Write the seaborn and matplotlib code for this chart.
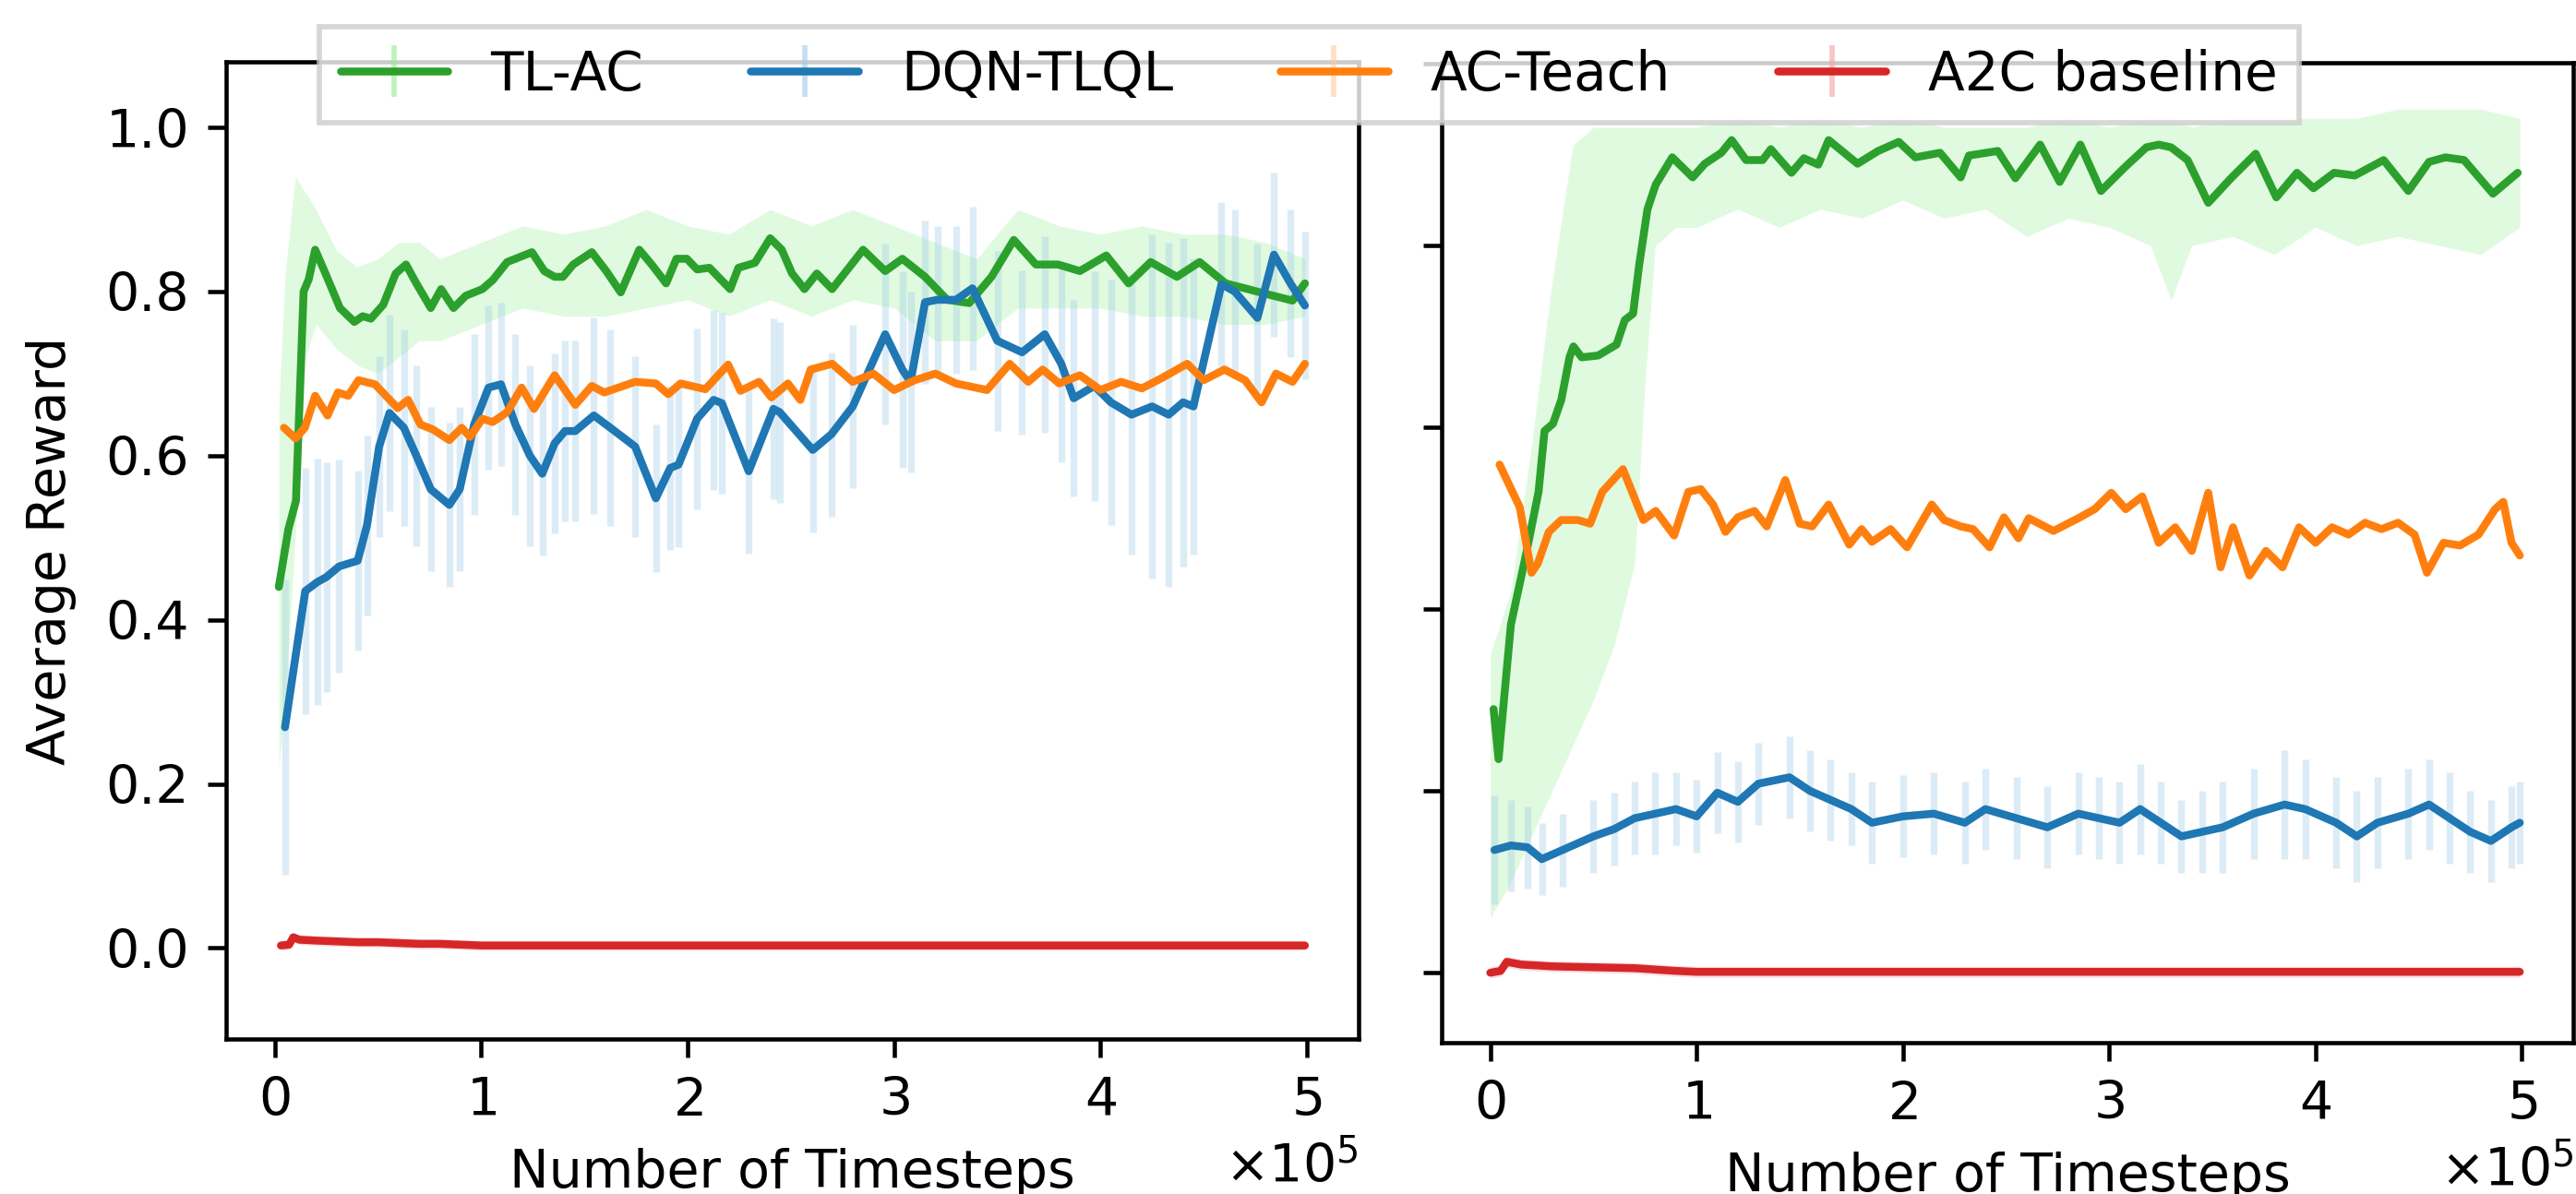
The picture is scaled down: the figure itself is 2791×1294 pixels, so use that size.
import numpy as np
import matplotlib
matplotlib.use("Agg")
import matplotlib.pyplot as plt
from matplotlib.lines import Line2D
from matplotlib.ticker import ScalarFormatter
import seaborn as sns

# === Values (timesteps in units of 1e5)
# Left panel
tlac_l_t = [0.02, 0.066, 0.103, 0.14, 0.165, 0.196, 0.246, 0.316, 0.386, 0.426, 0.466, 0.526, 0.586, 0.636,
            0.686, 0.756, 0.806, 0.866, 0.926, 1.006, 1.056, 1.126, 1.166, 1.246, 1.306, 1.356, 1.396, 1.446,
            1.536, 1.606, 1.676, 1.766, 1.826, 1.896, 1.946, 1.996, 2.046, 2.106, 2.206, 2.246, 2.326, 2.40,
            2.456, 2.506, 2.566, 2.626, 2.70, 2.85, 2.957, 3.04, 3.15, 3.257, 3.364, 3.472, 3.58, 3.687,
            3.795, 3.90, 4.028, 4.136, 4.243, 4.37, 4.48, 4.606, 4.714, 4.82, 4.93, 4.99]
tlac_l_r = [0.44, 0.51, 0.545, 0.80, 0.815, 0.851, 0.822, 0.780, 0.763, 0.770, 0.767, 0.784, 0.822, 0.833,
            0.810, 0.780, 0.803, 0.780, 0.795, 0.803, 0.814, 0.836, 0.840, 0.848, 0.825, 0.818, 0.818, 0.833,
            0.848, 0.825, 0.799, 0.851, 0.833, 0.810, 0.840, 0.840, 0.827, 0.829, 0.803, 0.829, 0.835, 0.865,
            0.851, 0.822, 0.803, 0.822, 0.803, 0.851, 0.825, 0.840, 0.818, 0.790, 0.786, 0.818, 0.863, 0.833,
            0.833, 0.825, 0.844, 0.810, 0.836, 0.818, 0.836, 0.810, 0.803, 0.796, 0.789, 0.810]
band_l_t = [0.02, 0.05, 0.1, 0.15, 0.2, 0.3, 0.4, 0.5, 0.6, 0.7, 0.8, 0.9, 1.0, 1.2, 1.4, 1.6, 1.8, 2.0,
            2.2, 2.4, 2.6, 2.8, 3.0, 3.2, 3.4, 3.6, 3.8, 4.0, 4.2, 4.4, 4.6, 4.8, 4.99]
band_l_lo = [0.22, 0.30, 0.50, 0.72, 0.76, 0.73, 0.71, 0.70, 0.72, 0.74, 0.74, 0.75, 0.76, 0.78, 0.77, 0.77,
             0.78, 0.79, 0.77, 0.79, 0.77, 0.79, 0.78, 0.74, 0.74, 0.78, 0.78, 0.78, 0.77, 0.77, 0.76, 0.76, 0.77]
band_l_hi = [0.66, 0.82, 0.94, 0.92, 0.90, 0.85, 0.83, 0.84, 0.86, 0.86, 0.84, 0.85, 0.86, 0.88, 0.87, 0.88,
             0.90, 0.88, 0.87, 0.90, 0.88, 0.90, 0.88, 0.86, 0.84, 0.90, 0.88, 0.87, 0.88, 0.87, 0.87, 0.86, 0.84]

dqn_l_t = [0.05, 0.148, 0.207, 0.25, 0.312, 0.402, 0.447, 0.506, 0.556, 0.626, 0.686, 0.756, 0.846, 0.896,
           0.966, 1.036, 1.096, 1.166, 1.236, 1.296, 1.356, 1.406, 1.456, 1.546, 1.626, 1.746, 1.846, 1.916,
           1.956, 2.046, 2.126, 2.166, 2.296, 2.416, 2.446, 2.606, 2.696, 2.80, 2.957, 3.04, 3.08, 3.15, 3.21,
           3.30, 3.38, 3.50, 3.62, 3.73, 3.81, 3.87, 3.97, 4.05, 4.15, 4.25, 4.33, 4.40, 4.45, 4.586, 4.65,
           4.76, 4.84, 4.92, 4.99]
dqn_l_r = [0.269, 0.435, 0.446, 0.452, 0.465, 0.472, 0.515, 0.611, 0.652, 0.634, 0.600, 0.559, 0.540, 0.559,
           0.638, 0.683, 0.687, 0.638, 0.600, 0.578, 0.615, 0.630, 0.630, 0.649, 0.634, 0.611, 0.548, 0.585,
           0.589, 0.645, 0.668, 0.664, 0.581, 0.657, 0.653, 0.607, 0.626, 0.66, 0.748, 0.705, 0.69, 0.787, 0.79,
           0.79, 0.804, 0.74, 0.726, 0.748, 0.712, 0.67, 0.685, 0.665, 0.65, 0.66, 0.65, 0.665, 0.66, 0.809, 0.80,
           0.768, 0.845, 0.81, 0.783]
dqn_l_err = [0.18, 0.15, 0.15, 0.14, 0.13, 0.11, 0.11, 0.11, 0.12, 0.12, 0.11, 0.10, 0.10, 0.10, 0.11, 0.10,
             0.10, 0.11, 0.11, 0.10, 0.11, 0.11, 0.11, 0.12, 0.12, 0.11, 0.09, 0.10, 0.10, 0.11, 0.11, 0.11,
             0.10, 0.11, 0.11, 0.10, 0.10, 0.10, 0.11, 0.12, 0.11, 0.10, 0.09, 0.09, 0.10, 0.11, 0.10, 0.12,
             0.12, 0.12, 0.14, 0.15, 0.17, 0.21, 0.21, 0.20, 0.18, 0.10, 0.10, 0.09, 0.10, 0.09, 0.09]

ac_l_t = [0.045, 0.101, 0.146, 0.196, 0.256, 0.306, 0.356, 0.406, 0.486, 0.546, 0.596, 0.646, 0.706, 0.766,
          0.846, 0.906, 0.946, 1.006, 1.056, 1.126, 1.196, 1.256, 1.356, 1.456, 1.536, 1.596, 1.746, 1.846,
          1.906, 1.966, 2.086, 2.196, 2.256, 2.346, 2.406, 2.486, 2.546, 2.596, 2.70, 2.80, 2.90, 3.00, 3.10,
          3.20, 3.30, 3.45, 3.56, 3.65, 3.72, 3.80, 3.90, 4.00, 4.10, 4.20, 4.30, 4.42, 4.50, 4.60, 4.70, 4.78,
          4.85, 4.93, 4.99]
ac_l_r = [0.634, 0.621, 0.634, 0.673, 0.649, 0.677, 0.673, 0.692, 0.687, 0.671, 0.658, 0.668, 0.638, 0.632,
          0.619, 0.634, 0.623, 0.645, 0.641, 0.653, 0.683, 0.657, 0.698, 0.662, 0.685, 0.677, 0.690, 0.688,
          0.675, 0.688, 0.681, 0.711, 0.679, 0.690, 0.671, 0.688, 0.668, 0.705, 0.712, 0.690, 0.700, 0.680,
          0.692, 0.700, 0.688, 0.680, 0.712, 0.690, 0.705, 0.688, 0.698, 0.680, 0.690, 0.682, 0.695, 0.712,
          0.692, 0.705, 0.692, 0.665, 0.700, 0.690, 0.712]

a2c_l_t = [0.03, 0.07, 0.09, 0.12, 0.2, 0.3, 0.4, 0.5, 0.6, 0.7, 0.8, 0.9, 1.0, 2.0, 3.0, 4.0, 4.99]
a2c_l_r = [0.003, 0.004, 0.013, 0.010, 0.009, 0.008, 0.007, 0.007, 0.006, 0.005, 0.005, 0.004, 0.003,
           0.003, 0.003, 0.003, 0.003]

# Right panel
tlac_r_t = [0.016, 0.04, 0.10, 0.174, 0.234, 0.263, 0.304, 0.344, 0.384, 0.403, 0.443, 0.523, 0.612, 0.652,
            0.692, 0.722, 0.762, 0.802, 0.882, 0.981, 1.04, 1.12, 1.17, 1.24, 1.32, 1.36, 1.46, 1.52, 1.59,
            1.64, 1.78, 1.88, 1.98, 2.06, 2.18, 2.28, 2.32, 2.46, 2.545, 2.665, 2.76, 2.86, 2.96, 3.08, 3.18,
            3.24, 3.30, 3.38, 3.48, 3.59, 3.71, 3.81, 3.91, 3.99, 4.09, 4.19, 4.33, 4.45, 4.55, 4.63, 4.72,
            4.86, 4.98]
tlac_r_r = [0.29, 0.235, 0.383, 0.461, 0.529, 0.596, 0.604, 0.630, 0.677, 0.689, 0.677, 0.679, 0.691, 0.718,
            0.725, 0.779, 0.840, 0.867, 0.897, 0.875, 0.890, 0.902, 0.916, 0.894, 0.894, 0.906, 0.880, 0.896,
            0.889, 0.916, 0.890, 0.904, 0.914, 0.897, 0.902, 0.875, 0.899, 0.904, 0.874, 0.911, 0.870, 0.911,
            0.860, 0.887, 0.908, 0.911, 0.908, 0.894, 0.847, 0.874, 0.901, 0.853, 0.880, 0.863, 0.880, 0.877,
            0.894, 0.860, 0.892, 0.897, 0.894, 0.857, 0.880]
band_r_t = [0.0, 0.1, 0.2, 0.3, 0.4, 0.5, 0.6, 0.7, 0.75, 0.8, 0.9, 1.0, 1.2, 1.4, 1.6, 1.8, 2.0, 2.2, 2.4,
            2.6, 2.8, 3.0, 3.2, 3.3, 3.4, 3.6, 3.8, 4.0, 4.2, 4.4, 4.6, 4.8, 4.99]
band_r_lo = [0.06, 0.10, 0.15, 0.20, 0.25, 0.30, 0.36, 0.45, 0.65, 0.80, 0.82, 0.82, 0.84, 0.82, 0.84, 0.83,
             0.85, 0.83, 0.84, 0.81, 0.83, 0.82, 0.80, 0.74, 0.80, 0.81, 0.79, 0.82, 0.80, 0.81, 0.80, 0.79, 0.82]
band_r_hi = [0.35, 0.42, 0.58, 0.76, 0.91, 0.93, 0.93, 0.93, 0.93, 0.93, 0.93, 0.93, 0.94, 0.93, 0.94, 0.93,
             0.94, 0.93, 0.93, 0.93, 0.94, 0.93, 0.94, 0.94, 0.93, 0.94, 0.94, 0.94, 0.94, 0.95, 0.95, 0.95, 0.94]

dqn_r_t = [0.02, 0.10, 0.18, 0.25, 0.35, 0.50, 0.60, 0.70, 0.80, 0.90, 1.00, 1.10, 1.20, 1.30, 1.45, 1.55,
           1.65, 1.75, 1.85, 2.00, 2.15, 2.30, 2.40, 2.55, 2.70, 2.85, 2.95, 3.05, 3.15, 3.25, 3.35, 3.45,
           3.55, 3.70, 3.85, 3.95, 4.10, 4.20, 4.30, 4.45, 4.55, 4.65, 4.75, 4.85, 4.95, 4.99]
dqn_r_r = [0.135, 0.140, 0.138, 0.125, 0.135, 0.150, 0.158, 0.170, 0.175, 0.180, 0.172, 0.198, 0.188, 0.208,
           0.215, 0.200, 0.190, 0.180, 0.165, 0.172, 0.175, 0.165, 0.180, 0.170, 0.160, 0.175, 0.170, 0.165,
           0.180, 0.165, 0.150, 0.155, 0.160, 0.175, 0.185, 0.180, 0.165, 0.150, 0.165, 0.175, 0.185, 0.170,
           0.155, 0.145, 0.160, 0.165]
dqn_r_err = [0.06, 0.05, 0.045, 0.04, 0.04, 0.04, 0.04, 0.04, 0.045, 0.04, 0.04, 0.045, 0.045, 0.045, 0.045,
             0.045, 0.045, 0.04, 0.045, 0.045, 0.045, 0.045, 0.045, 0.045, 0.045, 0.045, 0.045, 0.045, 0.05,
             0.045, 0.04, 0.045, 0.05, 0.05, 0.06, 0.055, 0.05, 0.05, 0.05, 0.05, 0.05, 0.05, 0.045, 0.045,
             0.045, 0.045]

ac_r_t = [0.045, 0.143, 0.20, 0.23, 0.284, 0.344, 0.424, 0.484, 0.543, 0.643, 0.742, 0.802, 0.891, 0.96,
          1.02, 1.08, 1.14, 1.20, 1.28, 1.34, 1.43, 1.50, 1.56, 1.64, 1.74, 1.80, 1.85, 1.94, 2.02, 2.14, 2.20,
          2.28, 2.34, 2.42, 2.49, 2.56, 2.61, 2.73, 2.85, 2.93, 3.01, 3.08, 3.16, 3.24, 3.32, 3.40, 3.48, 3.54,
          3.60, 3.68, 3.76, 3.84, 3.92, 4.00, 4.08, 4.16, 4.24, 4.32, 4.40, 4.48, 4.54, 4.62, 4.70, 4.79, 4.87,
          4.91, 4.95, 4.99]
ac_r_r = [0.559, 0.512, 0.44, 0.45, 0.485, 0.498, 0.498, 0.494, 0.529, 0.554, 0.498, 0.508, 0.481, 0.529,
          0.532, 0.515, 0.485, 0.501, 0.508, 0.491, 0.542, 0.494, 0.491, 0.515, 0.471, 0.488, 0.474, 0.488,
          0.468, 0.515, 0.498, 0.491, 0.488, 0.468, 0.501, 0.478, 0.50, 0.486, 0.50, 0.51, 0.528, 0.51, 0.524,
          0.473, 0.49, 0.464, 0.528, 0.446, 0.49, 0.437, 0.464, 0.446, 0.49, 0.473, 0.49, 0.482, 0.495, 0.488,
          0.495, 0.482, 0.44, 0.473, 0.47, 0.482, 0.51, 0.518, 0.473, 0.459]

a2c_r_t = [0.0, 0.05, 0.08, 0.15, 0.3, 0.5, 0.7, 0.9, 1.0, 2.0, 3.0, 4.0, 4.99]
a2c_r_r = [0.0, 0.002, 0.012, 0.009, 0.007, 0.006, 0.005, 0.002, 0.001, 0.001, 0.001, 0.001, 0.001]

labels = ["TL-AC", "DQN-TLQL", "AC-Teach", "A2C baseline"]
colors = ["#2ca02c", "#1f77b4", "#ff7f0e", "#d62728"]
light = ["#90ee90", "#9ccbe6", "#ffcc99", "#f4a0a0"]
SCALE = 1e5

# === Style
sns.set_style("ticks")
plt.rcParams.update({
    "font.family": ["DejaVu Sans"],
    "font.size": 10,
    "axes.edgecolor": "black",
    "axes.linewidth": 0.8,
    "axes.labelcolor": "black",
    "text.color": "black",
    "xtick.color": "black",
    "ytick.color": "black",
    "xtick.major.size": 3.5,
    "ytick.major.size": 3.5,
    "xtick.major.width": 0.8,
    "ytick.major.width": 0.8,
    "xtick.labelsize": 10,
    "ytick.labelsize": 10,
})

fig = plt.figure(figsize=(2791 / 410, 1294 / 410), dpi=410)
ax1 = fig.add_axes([0.0878, 0.1298, 0.4396, 0.8184])
ax2 = fig.add_axes([0.5597, 0.1267, 0.4393, 0.8207])


def x(t):
    return np.array(t) * SCALE


def panel(ax, tlac, band, dqn, ac, a2c):
    # light band for TL-AC
    ax.fill_between(x(band[0]), band[1], band[2], color=light[0], alpha=0.28, lw=0, zorder=1)
    # vertical error bars for DQN-TLQL
    dt, dr, de = np.array(dqn[0]), np.array(dqn[1]), np.array(dqn[2])
    ax.vlines(x(dt), dr - de, dr + de, colors=light[1], alpha=0.35, lw=1.3, zorder=1)
    # faint halo for the baseline
    ar = np.array(a2c[1])
    ax.fill_between(x(a2c[0]), ar - 0.006, ar + 0.006, color=light[3], alpha=0.35, lw=0, zorder=1)

    sns.lineplot(x=x(tlac[0]), y=tlac[1], ax=ax, color=colors[0], lw=1.5, errorbar=None, zorder=3)
    sns.lineplot(x=x(dt), y=dr, ax=ax, color=colors[1], lw=1.5, errorbar=None, zorder=3)
    sns.lineplot(x=x(ac[0]), y=ac[1], ax=ax, color=colors[2], lw=1.5, errorbar=None, zorder=3)
    sns.lineplot(x=x(a2c[0]), y=a2c[1], ax=ax, color=colors[3], lw=1.5, errorbar=None, zorder=3)

    ax.set_xlim(-0.235 * SCALE, 5.25 * SCALE)
    ax.set_xticks(x([0, 1, 2, 3, 4, 5]))
    fmt = ScalarFormatter(useMathText=True)
    fmt.set_powerlimits((0, 0))
    ax.xaxis.set_major_formatter(fmt)
    ax.set_xlabel("Number of Timesteps")
    ax.set_ylabel("")
    for s in ax.spines.values():
        s.set_visible(True)


panel(ax1, (tlac_l_t, tlac_l_r), (band_l_t, band_l_lo, band_l_hi),
      (dqn_l_t, dqn_l_r, dqn_l_err), (ac_l_t, ac_l_r), (a2c_l_t, a2c_l_r))
panel(ax2, (tlac_r_t, tlac_r_r), (band_r_t, band_r_lo, band_r_hi),
      (dqn_r_t, dqn_r_r, dqn_r_err), (ac_r_t, ac_r_r), (a2c_r_t, a2c_r_r))

ax1.set_ylim(-0.111, 1.08)
ax1.set_yticks([0.0, 0.2, 0.4, 0.6, 0.8, 1.0])
ax1.set_ylabel("Average Reward", labelpad=5.5)

ax2.set_ylim(-0.077, 1.001)
ax2.set_yticks([0.0, 0.2, 0.4, 0.6, 0.8, 1.0])
ax2.tick_params(axis="y", labelleft=False)

# === Legend spanning both panels
handles = []
for c, lc in zip(colors, light):
    bar = Line2D([], [], color=lc, marker="|", markersize=10, mew=1.0, linestyle="none", alpha=0.6)
    line = Line2D([], [], color=c, lw=1.5)
    handles.append((bar, line))
fig.legend(handles, labels, ncol=4, loc="center", bbox_to_anchor=(0.5082, 0.9374),
           fancybox=False, framealpha=0.8, edgecolor="0.8", fontsize=10.2)

fig.savefig("out.png", dpi=410)
